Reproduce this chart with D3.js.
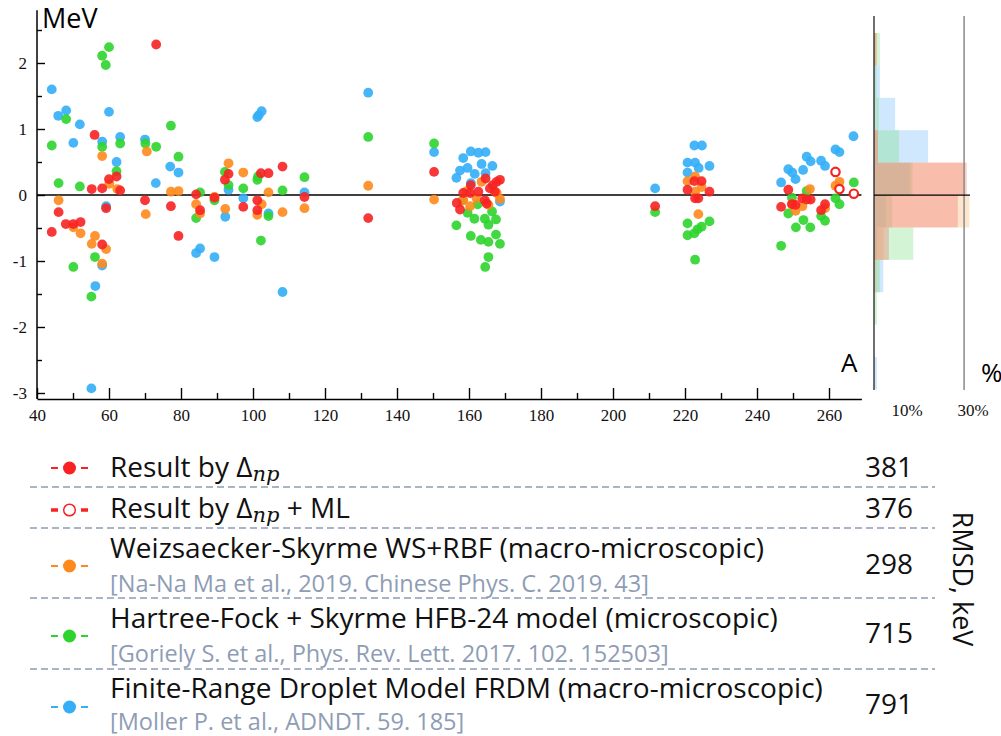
<!DOCTYPE html>
<html><head><meta charset="utf-8">
<script src="https://cdn.jsdelivr.net/npm/d3@7"></script>
<style>body{margin:0;background:#fff;} svg{display:block;}</style>
</head><body>
<svg id="c" width="1001" height="736"></svg>
<script>
// ---------- data (A, deviation in MeV) ----------
const frdmPts = [[44.1,1.60],[45.9,1.20],[48.1,1.28],[50.1,0.79],[51.9,1.07],[58.1,0.81],[60,1.26],[63.1,0.88],[62.1,0.50],[70,0.84],[73,0.18],[77,0.43],[79.3,0.34],[59.2,-0.17],[58.1,-1.07],[56.2,-1.38],[55.1,-2.93],[84.2,-0.88],[85.3,-0.81],[89.3,-0.94],[93.2,0.08],[92.3,-0.33],[97.3,-0.05],[101.2,1.18],[102.4,1.27],[101.6,1.21],[104.3,-0.28],[108.2,-1.47],[114.3,0.04],[132,1.55],[150.3,0.65],
 [160.5,0.66],[162.6,0.64],[164.6,0.65],[158.4,0.56],[163.5,0.47],[166.5,0.44],[157.5,0.37],[159.6,0.41],[156.5,0.26],[161.6,0.32],[164.6,0.33],[160.5,0.18],[168.6,-0.10],
 [211.7,0.10],[222.6,0.75],[224.7,0.75],[220.7,0.49],[222.8,0.49],[223.8,0.41],[226.8,0.44],[220.7,0.34],
 [266.8,0.89],[261.8,0.69],[262.9,0.65],[253.8,0.58],[254.9,0.51],[257.8,0.52],[258.9,0.44],[248.7,0.39],[249.8,0.34],[252.8,0.38],[250.7,0.24],[246.7,0.19]];
const hfbPts = [[44.1,0.75],[46,0.18],[48.1,1.15],[51.9,0.13],[58.1,2.11],[60,2.24],[59.1,1.97],[58.1,0.73],[63.1,0.78],[62.1,0.36],[70.1,0.78],[73.1,0.73],[77.2,1.05],[79.3,0.58],[56.1,-0.94],[50.1,-1.09],[55.1,-1.54],[85.3,0.04],[84.2,-0.35],[89.3,-0.08],[92.2,0.35],[93.2,0.15],[97.3,0.10],[101.2,0.23],[101.4,0.28],[104.3,-0.32],[102.2,-0.69],[108.2,0.07],[114.3,0.27],[132,0.88],[150.3,0.78],
 [158.2,-0.08],[162.4,-0.14],[159.6,-0.27],[166.4,-0.25],[161.5,-0.36],[164.4,-0.36],[167.5,-0.37],[156.5,-0.46],[165.4,-0.45],[160.5,-0.62],[163.3,-0.68],[165.4,-0.71],[167.5,-0.60],[168.6,-0.74],[165.4,-0.94],[164.5,-1.09],
 [211.7,-0.26],[220.7,-0.43],[226.8,-0.40],[224.6,-0.48],[223.5,-0.52],[220.7,-0.61],[222.6,-0.58],[222.8,-0.98],
 [266.9,0.19],[253.8,0.06],[249.7,-0.04],[261.8,-0.05],[262.9,-0.14],[248.7,-0.28],[257.8,-0.32],[258.9,-0.39],[252.9,-0.38],[250.8,-0.49],[254.8,-0.49],[246.7,-0.77]];
const wsPts = [[58.1,0.59],[60.1,0.17],[62.3,0.09],[46,-0.08],[70.5,0.66],[77.2,0.05],[79.3,0.06],[70.2,-0.29],[50.1,-0.49],[52.1,-0.58],[55.2,-0.74],[56.1,-0.62],[59.2,-0.82],[58.1,-1.04],[84.2,-0.14],[85.3,-0.28],[89.3,-0.03],[93.2,0.48],[92.3,-0.21],[97.3,0.34],[101.2,-0.30],[102.4,-0.14],[104.3,0.04],[108.2,-0.26],[114.3,-0.20],[132,0.14],[150.3,-0.07],
 [163.5,0.20],[159.4,0.06],[158.4,-0.08],[160.3,-0.17],[165.4,-0.15],[167.7,0.03],[168.6,-0.06],[162.1,-0.05],
 [222.8,0.28],[220.7,0.21],[224.6,0.12],[222.8,0.05],[223.7,-0.29],
 [262.9,0.20],[261.8,0.14],[254.7,0.09],[252.6,-0.17],[250.7,-0.24],[258.9,-0.20],[249.8,-0.13]];
const dnpPts = [[73.1,2.28],[56,0.91],[55.2,0.09],[58.1,0.10],[60,0.24],[62.1,0.28],[63.1,0.07],[70,-0.08],[77.2,-0.17],[46,-0.26],[59.2,-0.20],[44.1,-0.56],[48,-0.44],[50.1,-0.44],[52.1,-0.41],[58.1,-0.75],[79.3,-0.62],[84.2,0.01],[85.3,-0.23],[89.3,-0.04],[93.2,0.32],[92.2,0.23],[97.3,-0.18],[102.2,0.33],[104.3,0.33],[101.2,-0.08],[101.2,-0.23],[108.2,0.43],[114.3,-0.03],[132,-0.35],[150.3,0.35],
 [164.6,0.25],[160.5,0.15],[167.7,0.20],[168.6,0.23],[158.4,0.03],[160.3,0.03],[162.6,0.05],[165.8,0.10],[164.4,-0.08],[156.6,-0.12],[157.5,-0.22],[164.9,-0.13],[166.6,0.15],[167.2,0.05],
 [211.7,-0.17],[222.6,0.21],[224.6,0.21],[220.7,0.08],[226.8,0.05],[222.8,-0.05],[223.7,-0.05],
 [248.7,0.08],[252.6,-0.05],[253.8,-0.07],[254.9,-0.07],[246.7,-0.18],[249.7,-0.14],[250.7,-0.15],[258.9,-0.14],[257.8,-0.23]];
const mlPts = [[261.8,0.35],[262.9,0.09],[266.9,0.02]];

const xTicks = [40,60,80,100,120,140,160,180,200,220,240,260];
const xMinor = [50,70,90,110,130,150,170,190,210,230,250];
const yTicks = [-3,-2,-1,0,1,2];
const yMinor = [-2.5,-1.5,-0.5,0.5,1.5,2.5];

// histogram: bin lower edges (bin width 0.5 MeV), share of nuclei in %
const histBins   = [2.0,1.5,1.0,0.5,0,-0.5,-1.0,-1.5,-2.0,-2.5,-3.0];
const histFrdm   = [0, 1.8, 6.4, 16.4, 10.9, 3.6, 0.9, 2.8, 0, 0, 0.9];
const histHfb    = [1.8, 0.8, 1.5, 7.6, 11.7, 5.5, 11.9, 1.8, 0.9, 0, 0];
const histWs     = [0.8, 0, 0.3, 1.2, 27.3, 28.9, 2.9, 0.9, 0, 0, 0];
const histDnp    = [0.8, 0, 0, 1.2, 28.1, 25.4, 4.5, 0, 0, 0, 0];
const histTicks  = [10, 30];
const histRef    = 27.3;

const legendLabels = ["Result by ", "Result by ", "Weizsaecker-Skyrme WS+RBF (macro-microscopic)", "Hartree-Fock + Skyrme HFB-24 model (microscopic)", "Finite-Range Droplet Model FRDM (macro-microscopic)"];
const legendCites  = ["", "", "[Na-Na Ma et al., 2019. Chinese Phys. C. 2019. 43]", "[Goriely S. et al., Phys. Rev. Lett. 2017. 102. 152503]", "[Moller P. et al., ADNDT. 59. 185]"];
const legendRmsd   = ["381", "376", "298", "715", "791"];

// ---------- styling ----------
const C = {red:"#f72222", orange:"#ff8a1c", green:"#2ed42e", blue:"#33aef7"};
const HC = {red:"rgba(235,120,110,0.36)", orange:"rgba(255,175,110,0.34)", green:"rgba(120,225,130,0.33)", blue:"rgba(150,205,250,0.45)"};
const svg = d3.select("#c");
const x = d3.scaleLinear().domain([40,269]).range([37,861.4]);
const y = d3.scaleLinear().domain([-3,2]).range([393,63]);
const serif = "'Liberation Serif','Times New Roman',serif";
const sans = "'Open Sans','Noto Sans',sans-serif";

// y axis
const gy = svg.append("g").attr("transform","translate(37,0)");
gy.call(d3.axisLeft(y).tickValues(yTicks).tickSizeInner(-8).tickSizeOuter(0).tickPadding(10).tickFormat(d=>String(d)));
gy.select(".domain").remove();
const gy2 = svg.append("g").attr("transform","translate(37,0)");
gy2.call(d3.axisLeft(y).tickValues(yMinor).tickSizeInner(-5).tickSizeOuter(0).tickFormat(""));
gy2.select(".domain").remove();
svg.append("line").attr("x1",37).attr("x2",37).attr("y1",y(2.8)).attr("y2",y(-3.09)).attr("stroke","#000").attr("stroke-width",1.5);

// x axis
const gx = svg.append("g").attr("transform",`translate(0,${y(-3.09)})`);
gx.call(d3.axisBottom(x).tickValues(xTicks).tickSizeInner(-11).tickSizeOuter(0).tickPadding(10).tickFormat(d=>String(d)));
const gx2 = svg.append("g").attr("transform",`translate(0,${y(-3.09)})`);
gx2.call(d3.axisBottom(x).tickValues(xMinor).tickSizeInner(-6).tickSizeOuter(0).tickFormat(""));
gx2.select(".domain").remove();
svg.selectAll(".tick line").attr("stroke","#000").attr("stroke-width",1.4);
svg.selectAll(".domain").attr("stroke","#000").attr("stroke-width",1.5);
svg.selectAll(".tick text").attr("font-family",serif).attr("font-size",17).attr("fill","#111");

// zero line
svg.append("line").attr("x1",x(40)).attr("x2",x(269)).attr("y1",y(0)).attr("y2",y(0)).attr("stroke","#000").attr("stroke-width",1.5);

// scatter
function dots(data,color){
  svg.append("g").selectAll("circle").data(data).join("circle")
    .attr("cx",d=>x(d[0])).attr("cy",d=>y(d[1])).attr("r",4.9)
    .attr("fill",color).attr("fill-opacity",0.9);
}
dots(frdmPts,C.blue); dots(hfbPts,C.green); dots(wsPts,C.orange); dots(dnpPts,C.red);
svg.append("g").selectAll("circle").data(mlPts).join("circle")
  .attr("cx",d=>x(d[0])).attr("cy",d=>y(d[1])).attr("r",4.2)
  .attr("fill","#fff").attr("stroke",C.red).attr("stroke-width",2.2);

// axis titles
svg.append("text").attr("x",42).attr("y",28).attr("font-family",sans).attr("font-size",27).text("MeV");
svg.append("text").attr("x",841).attr("y",372).attr("font-family",sans).attr("font-size",26).text("A");
svg.append("text").attr("x",981).attr("y",382).attr("font-family",sans).attr("font-size",26).text("%");

// histogram
const hx = d3.scaleLinear().domain([0,30]).range([874,973]);
const hy = d3.scaleLinear().domain([-3,2.5]).range([389.5,33]);
const binH = hy(0)-hy(0.5);
function hbars(vals,color){
  svg.append("g").selectAll("rect").data(histBins.map((b,i)=>[b,vals[i]]).filter(d=>d[1]>0)).join("rect")
    .attr("x",hx(0)).attr("y",d=>hy(d[0]+0.5)).attr("width",d=>hx(d[1])-hx(0)).attr("height",binH)
    .attr("fill",color);
}
hbars(histFrdm,HC.blue); hbars(histHfb,HC.green); hbars(histWs,HC.orange); hbars(histDnp,HC.red);
svg.append("line").attr("x1",hx(0)).attr("x2",hx(0)).attr("y1",16).attr("y2",390).attr("stroke","#222").attr("stroke-width",1.3);
svg.append("line").attr("x1",hx(histRef)).attr("x2",hx(histRef)).attr("y1",16).attr("y2",390).attr("stroke","#8a8a8a").attr("stroke-width",1.5);
svg.append("line").attr("x1",hx(0)).attr("x2",970).attr("y1",hy(0)).attr("y2",hy(0)).attr("stroke","#000").attr("stroke-width",1.2);
svg.append("g").selectAll("text").data(histTicks).join("text")
  .attr("x",d=>hx(d)).attr("y",416).attr("text-anchor","middle")
  .attr("font-family",serif).attr("font-size",17).attr("fill","#111").text(d=>d+"%");

// legend
const rowText = [477, 518, 558, 628, 698];
const rowCite = [0, 0, 592, 662, 730];
const rowMark = [468, 510, 566, 636, 707];
const rowVal  = [477, 518, 574, 643, 714];
const sepY = [487, 528, 598, 669];
const markColors = [C.red, C.red, C.orange, C.green, C.blue];
const lg = svg.append("g");
sepY.forEach(yy=>lg.append("line").attr("x1",30).attr("x2",935).attr("y1",yy).attr("y2",yy)
  .attr("stroke","#a9b4c7").attr("stroke-width",2).attr("stroke-dasharray","7,4"));
legendLabels.forEach((lab,i)=>{
  const col = markColors[i];
  const thick = i===1 ? 3.5 : 2;
  lg.append("line").attr("x1",51).attr("x2",58).attr("y1",rowMark[i]).attr("y2",rowMark[i]).attr("stroke",col).attr("stroke-width",thick);
  lg.append("line").attr("x1",81).attr("x2",88).attr("y1",rowMark[i]).attr("y2",rowMark[i]).attr("stroke",col).attr("stroke-width",thick);
  if(i===1){
    lg.append("circle").attr("cx",69.5).attr("cy",rowMark[i]).attr("r",5.8).attr("fill","#fff").attr("stroke",col).attr("stroke-width",1.5);
  } else {
    lg.append("circle").attr("cx",69.5).attr("cy",rowMark[i]).attr("r",6.5).attr("fill",col);
  }
  const t = lg.append("text").attr("x",110).attr("y",rowText[i]).attr("font-family",sans).attr("font-size",28).attr("fill","#111");
  t.append("tspan").text(lab);
  if(i<2){
    t.append("tspan").text("Δ");
    t.append("tspan").attr("dy",4).attr("font-family","'DejaVu Serif','Liberation Serif',serif").attr("font-style","italic").attr("font-size",21).text("np");
    if(i===1) t.append("tspan").attr("dy",-4).text(" + ML");
  }
  if(legendCites[i]) lg.append("text").attr("x",110).attr("y",rowCite[i]).attr("font-family",sans).attr("font-size",23.5).attr("fill","#8e9db5").text(legendCites[i]);
  lg.append("text").attr("x",865).attr("y",rowVal[i]).attr("font-family",sans).attr("font-size",28).attr("fill","#111").text(legendRmsd[i]);
});
svg.append("text").attr("transform","translate(953,579) rotate(90)").attr("text-anchor","middle")
  .attr("font-family",sans).attr("font-size",27).attr("fill","#111").text("RMSD, keV");
</script>
</body></html>
